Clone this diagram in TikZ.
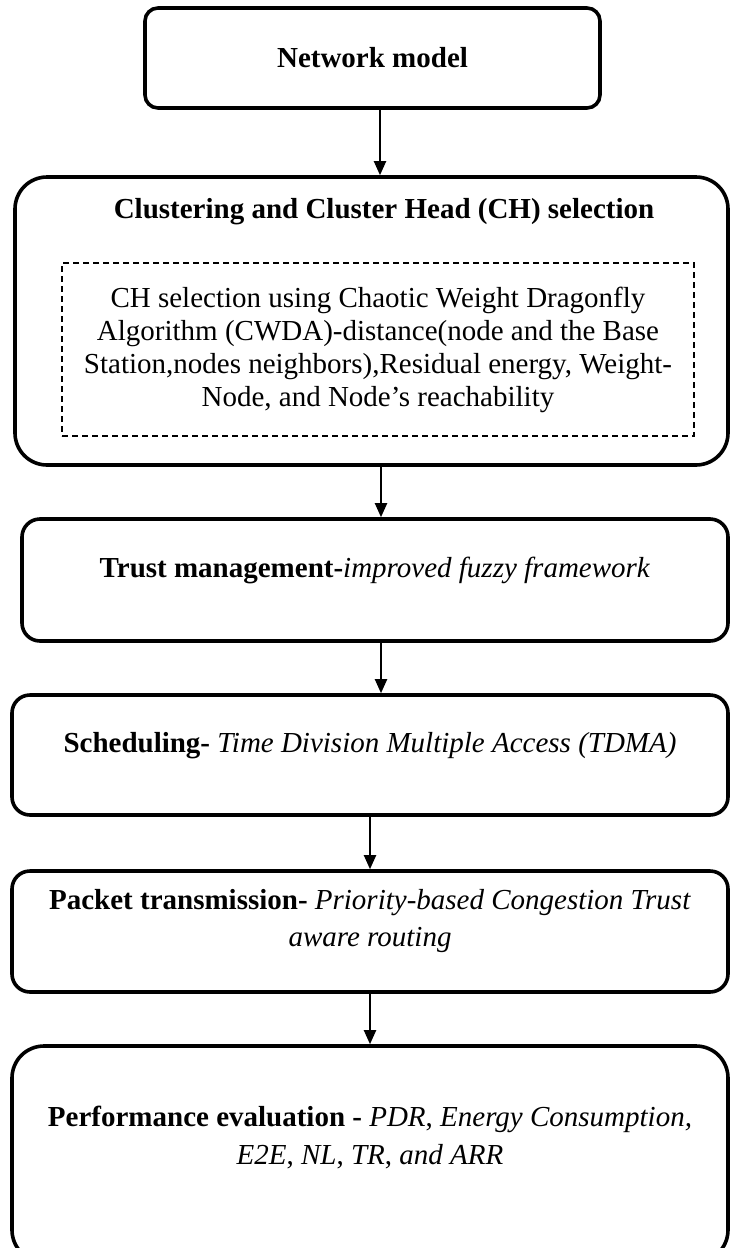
\documentclass[tikz,border=0pt]{standalone}
\usepackage{fontspec}
\setmainfont{Liberation Serif}
\usetikzlibrary{positioning, arrows.meta}

% extra depth under the last line, lifts the text inside a box
\newcommand{\padlow}[1]{\rule[-#1]{0pt}{#1}}

\begin{document}
\begin{tikzpicture}[
        x=1pt, y=1pt,
        every node/.style={font=\fontsize{14.5}{16.5}\selectfont, align=center},
        box/.style={draw, line width=1.8pt, rounded corners=9pt, inner sep=0pt},
        bigbox/.style={box, rounded corners=16pt},
        dashbox/.style={draw, dashed, line width=0.8pt, dash pattern=on 3pt off 2pt},
        arr/.style={-{Triangle[length=7pt,width=6pt]}, line width=1pt}]

    \useasboundingbox (0,0) rectangle (365,-624);

    \node[box, rounded corners=6.5pt, minimum width=227.5pt, minimum height=50pt] (A) at (186.25,-29) {\textbf{Network model}};

    \node[bigbox, minimum width=356.5pt, minimum height=144pt] (B) at (185.75,-160.5) {};
    \node (Bt) at (192,-106) {\textbf{Clustering and Cluster Head (CH) selection}};
    \node[dashbox, minimum width=316pt, minimum height=86.5pt] (Bd) at (189,-174.75) {CH selection using Chaotic Weight Dragonfly\\
        Algorithm (CWDA)-distance(node and the Base\\
        Station,nodes neighbors),Residual energy, Weight-\\
        Node, and Node’s reachability};

    \node[box, minimum width=353pt, minimum height=61pt] (C) at (187.5,-290) {\textbf{Trust management-}\textit{improved fuzzy framework}\padlow{13pt}};
    \node[box, minimum width=358pt, minimum height=60pt] (D) at (185,-377.5) {\textbf{Scheduling-} \textit{Time Division Multiple Access (TDMA)}\padlow{13pt}};
    \node[box, minimum width=358pt, minimum height=60.5pt] (E) at (185,-465.75) {\textbf{Packet transmission-} \textit{Priority-based Congestion Trust}\\[2.25pt]
        \textit{aware routing}\padlow{13.7pt}};
    \node[bigbox, minimum width=358pt, minimum height=108pt] (F) at (185,-577) {\textbf{Performance evaluation -} \textit{PDR}, \textit{Energy Consumption,}\\[2.25pt]
        \textit{E2E}, \textit{NL}, \textit{TR}, \textit{and ARR}\padlow{18.7pt}};

    \draw[arr] ([xshift=3.75pt]A.south) -- ([xshift=3.75pt]A.south |- B.north);
    \draw[arr] ([xshift=4.75pt]B.south) -- ([xshift=4.75pt]B.south |- C.north);
    \draw[arr] ([xshift=3pt]C.south) -- ([xshift=3pt]C.south |- D.north);
    \draw[arr] (D) -- (E);
    \draw[arr] (E) -- (F);

\end{tikzpicture}
\end{document}
